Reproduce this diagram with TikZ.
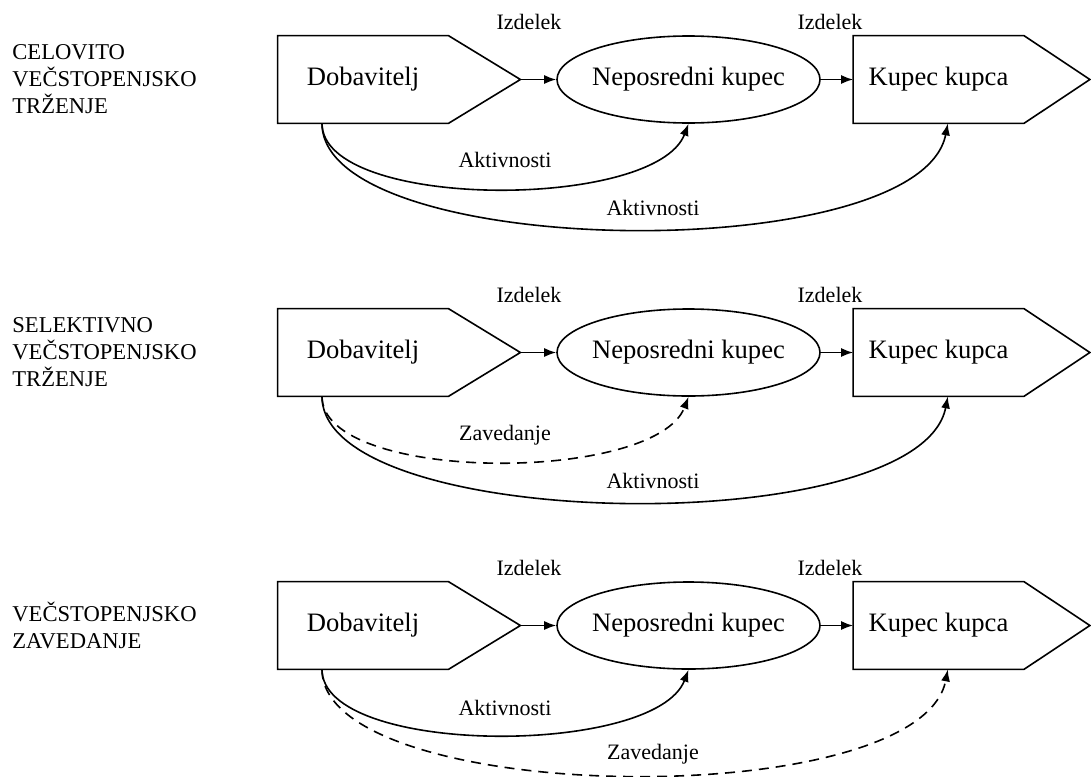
\documentclass[tikz,border=0pt]{standalone}
\usepackage{fontspec}
\setmainfont{Liberation Serif}
\usepackage{tikz}
\usetikzlibrary{arrows.meta,positioning,calc,shapes.geometric}

\begin{document}
\begin{tikzpicture}[
  x=0.5pt, y=-0.5pt,
  every node/.style={align=left},
  ar/.style={-{Latex[length=6pt,width=4.5pt]}, line width=0.8pt},
  zav/.style={dash pattern=on 5pt off 3.5pt},
  frame/.style={draw, line width=0.8pt},
  body/.style={minimum width=85pt, minimum height=43.5pt, inner sep=0pt, font=\fontsize{13.3}{16}\selectfont},
  kupec/.style={ellipse, draw, line width=0.8pt, minimum width=131.5pt, minimum height=43.5pt, inner xsep=-2pt, font=\fontsize{13.3}{16}\selectfont},
  lbl/.style={font=\fontsize{11}{13}\selectfont},
  vrsta/.style={anchor=west, inner sep=0pt, font=\fontsize{11.3}{13.5}\selectfont}
]
\useasboundingbox (0,0) rectangle (1091,776);

% celovito vecstopenjsko trzenje
\node[vrsta] (v1) at (12,79.5) {CELOVITO\\VEČSTOPENJSKO\\TRŽENJE};
\node[body] (dob1) at (363,79.5) {Dobavitelj};
\coordinate (tip1) at ($(dob1.east)+(72,0)$);
\draw[frame] (dob1.north west) -- (dob1.north east) -- (tip1) -- (dob1.south east) -- (dob1.south west) -- cycle;
\node[kupec] (nk1) at (688.5,79.5) {Neposredni kupec};
\node[body] (kk1) at (938.5,79.5) {Kupec kupca};
\coordinate (ktip1) at ($(kk1.east)+(66,0)$);
\draw[frame] (kk1.north west) -- (kk1.north east) -- (ktip1) -- (kk1.south east) -- (kk1.south west) -- cycle;
\node[lbl] (iz1a) at (529,22) {Izdelek};
\node[lbl] (iz1b) at (830,22) {Izdelek};
\draw[ar] (tip1) -- (nk1);
\draw[ar] (nk1) -- (kk1);
\coordinate (st1) at ($(dob1.south west)!0.26!(dob1.south east)$);
\draw[ar] (st1) .. controls +(0,87) and +(-33,87) .. (nk1.south);
\draw[ar] (st1) .. controls +(0,137) and +(-28,145) .. (kk1.-78);
\node[lbl] (ak1a) at (505,160) {Aktivnosti};
\node[lbl] (ak1b) at (653,208) {Aktivnosti};

% selektivno vecstopenjsko trzenje
\node[vrsta] (v2) at (12,352.5) {SELEKTIVNO\\VEČSTOPENJSKO\\TRŽENJE};
\node[body] (dob2) at (363,352.5) {Dobavitelj};
\coordinate (tip2) at ($(dob2.east)+(72,0)$);
\draw[frame] (dob2.north west) -- (dob2.north east) -- (tip2) -- (dob2.south east) -- (dob2.south west) -- cycle;
\node[kupec] (nk2) at (688.5,352.5) {Neposredni kupec};
\node[body] (kk2) at (938.5,352.5) {Kupec kupca};
\coordinate (ktip2) at ($(kk2.east)+(66,0)$);
\draw[frame] (kk2.north west) -- (kk2.north east) -- (ktip2) -- (kk2.south east) -- (kk2.south west) -- cycle;
\node[lbl] (iz2a) at (529,295) {Izdelek};
\node[lbl] (iz2b) at (830,295) {Izdelek};
\draw[ar] (tip2) -- (nk2);
\draw[ar] (nk2) -- (kk2);
\coordinate (st2) at ($(dob2.south west)!0.26!(dob2.south east)$);
\draw[ar, zav] (st2) .. controls +(0,87) and +(-33,87) .. (nk2.south);
\draw[ar] (st2) .. controls +(0,137) and +(-28,145) .. (kk2.-78);
\node[lbl] (za2) at (505,435) {Zavedanje};
\node[lbl] (ak2) at (653,481) {Aktivnosti};

% vecstopenjsko zavedanje
\node[vrsta] (v3) at (12,625.5) {VEČSTOPENJSKO\\ZAVEDANJE};
\node[body] (dob3) at (363,625.5) {Dobavitelj};
\coordinate (tip3) at ($(dob3.east)+(72,0)$);
\draw[frame] (dob3.north west) -- (dob3.north east) -- (tip3) -- (dob3.south east) -- (dob3.south west) -- cycle;
\node[kupec] (nk3) at (688.5,625.5) {Neposredni kupec};
\node[body] (kk3) at (938.5,625.5) {Kupec kupca};
\coordinate (ktip3) at ($(kk3.east)+(66,0)$);
\draw[frame] (kk3.north west) -- (kk3.north east) -- (ktip3) -- (kk3.south east) -- (kk3.south west) -- cycle;
\node[lbl] (iz3a) at (529,568) {Izdelek};
\node[lbl] (iz3b) at (830,568) {Izdelek};
\draw[ar] (tip3) -- (nk3);
\draw[ar] (nk3) -- (kk3);
\coordinate (st3) at ($(dob3.south west)!0.26!(dob3.south east)$);
\draw[ar] (st3) .. controls +(0,87) and +(-33,87) .. (nk3.south);
\draw[ar, zav] (st3) .. controls +(0,137) and +(-28,145) .. (kk3.-78);
\node[lbl] (ak3) at (505,708) {Aktivnosti};
\node[lbl] (za3) at (653,754) {Zavedanje};
\end{tikzpicture}
\end{document}
